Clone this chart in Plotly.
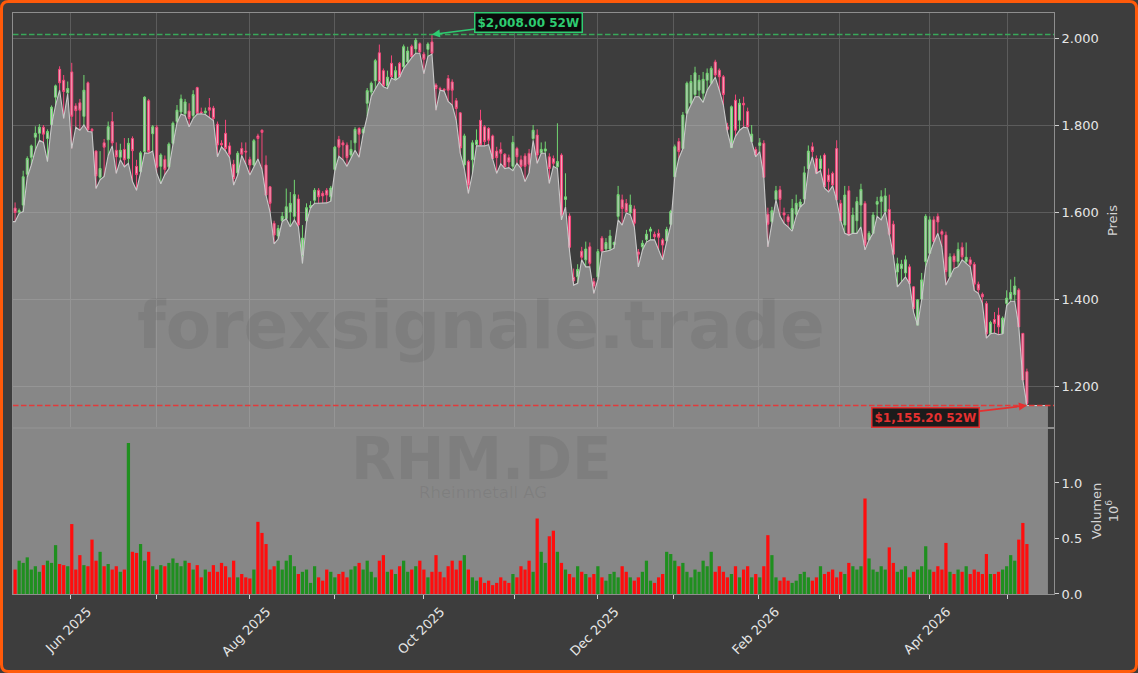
import numpy as np
import pandas as pd
import plotly.graph_objects as go
from plotly.subplots import make_subplots

# ---------------- data ----------------
start_date = "2025-05-13"
end_date = "2026-05-08"
exchange_holidays = ["2025-12-24", "2025-12-25", "2025-12-26", "2025-12-31",
                     "2026-01-01", "2026-04-03", "2026-04-06", "2026-05-01"]

opens = [
    1609, 1600, 1616, 1687, 1726, 1772, 1781, 1795, 1769, 1801,
    1864, 1928, 1903, 1874, 1922, 1844, 1851, 1820, 1897, 1790,
    1740, 1680, 1759, 1766, 1808, 1742, 1726, 1744, 1723, 1769,
    1705, 1693, 1739, 1856, 1780, 1795, 1705, 1721, 1704, 1758,
    1808, 1830, 1826, 1832, 1822, 1886, 1830, 1828, 1840, 1839,
    1802, 1758, 1781, 1752, 1710, 1690, 1746, 1740, 1721, 1708,
    1775, 1788, 1708, 1658, 1574, 1545, 1580, 1585, 1600, 1590,
    1630, 1500, 1580, 1610, 1627, 1650, 1643, 1650, 1635, 1698,
    1767, 1759, 1754, 1731, 1759, 1792, 1782, 1850, 1876, 1902,
    1966, 1925, 1890, 1942, 1905, 1942, 1934, 1945, 1981, 1975,
    1987, 1963, 1974, 1991, 1892, 1884, 1882, 1907, 1899, 1856,
    1828, 1708, 1716, 1720, 1755, 1811, 1796, 1792, 1775, 1740,
    1744, 1733, 1725, 1705, 1746, 1720, 1729, 1735, 1769, 1777,
    1736, 1740, 1727, 1723, 1704, 1731, 1629, 1591, 1450, 1451,
    1510, 1490, 1520, 1440, 1451, 1540, 1515, 1515, 1525, 1590,
    1628, 1620, 1598, 1607, 1508, 1520, 1537, 1556, 1549, 1551,
    1536, 1534, 1572, 1681, 1762, 1746, 1827, 1850, 1870, 1880,
    1873, 1903, 1896, 1945, 1926, 1911, 1796, 1748, 1857, 1811,
    1850, 1831, 1762, 1744, 1753, 1758, 1595, 1578, 1629, 1651,
    1598, 1589, 1562, 1595, 1612, 1630, 1700, 1750, 1723, 1700,
    1731, 1685, 1689, 1746, 1620, 1570, 1649, 1551, 1580, 1616,
    1620, 1536, 1551, 1618, 1624, 1601, 1606, 1572, 1462, 1470,
    1460, 1474, 1428, 1340, 1400, 1486, 1505, 1582, 1590, 1555,
    1547, 1451, 1499, 1486, 1519, 1486, 1490, 1480, 1434, 1411,
    1390, 1321, 1353, 1363, 1321, 1390, 1400, 1410, 1421, 1321, 1233,
]
highs = [
    1622, 1608, 1695, 1728, 1755, 1797, 1802, 1800, 1790, 1845,
    1893, 1935, 1915, 1900, 1943, 1850, 1860, 1915, 1900, 1793,
    1742, 1740, 1768, 1808, 1830, 1760, 1757, 1770, 1770, 1774,
    1720, 1740, 1866, 1860, 1800, 1800, 1735, 1730, 1760, 1808,
    1846, 1870, 1860, 1850, 1880, 1888, 1840, 1840, 1862, 1844,
    1808, 1765, 1812, 1760, 1720, 1740, 1760, 1760, 1727, 1768,
    1780, 1790, 1730, 1660, 1580, 1570, 1600, 1654, 1646, 1674,
    1640, 1570, 1620, 1625, 1655, 1655, 1648, 1655, 1660, 1752,
    1775, 1765, 1760, 1765, 1795, 1795, 1795, 1885, 1900, 1952,
    1985, 1930, 1925, 1960, 1935, 1945, 1985, 1980, 1985, 2000,
    1990, 1968, 1990, 2008, 1896, 1888, 1885, 1915, 1905, 1862,
    1830, 1780, 1720, 1765, 1790, 1835, 1800, 1795, 1778, 1750,
    1760, 1735, 1732, 1775, 1750, 1730, 1735, 1745, 1800, 1790,
    1760, 1762, 1735, 1730, 1804, 1735, 1689, 1597, 1470, 1480,
    1520, 1532, 1530, 1448, 1515, 1545, 1540, 1559, 1532, 1660,
    1640, 1630, 1640, 1615, 1515, 1535, 1559, 1566, 1555, 1560,
    1540, 1566, 1605, 1755, 1770, 1830, 1900, 1915, 1934, 1915,
    1922, 1930, 1935, 1950, 1930, 1915, 1805, 1845, 1870, 1860,
    1865, 1840, 1800, 1750, 1770, 1765, 1610, 1612, 1660, 1660,
    1610, 1595, 1630, 1640, 1630, 1705, 1753, 1760, 1730, 1730,
    1735, 1700, 1693, 1765, 1628, 1660, 1660, 1610, 1635, 1665,
    1625, 1556, 1600, 1635, 1650, 1655, 1640, 1580, 1495, 1490,
    1500, 1480, 1430, 1400, 1460, 1595, 1590, 1590, 1597, 1560,
    1555, 1505, 1505, 1530, 1530, 1530, 1497, 1485, 1440, 1415,
    1395, 1350, 1370, 1380, 1360, 1420, 1445, 1451, 1425, 1322, 1240,
]
lows = [
    1578, 1597, 1601, 1680, 1708, 1742, 1765, 1760, 1716, 1800,
    1845, 1880, 1815, 1872, 1746, 1795, 1788, 1800, 1785, 1784,
    1654, 1674, 1682, 1730, 1752, 1689, 1720, 1704, 1712, 1670,
    1650, 1690, 1736, 1735, 1740, 1690, 1665, 1686, 1700, 1755,
    1805, 1825, 1822, 1796, 1815, 1825, 1826, 1824, 1818, 1810,
    1727, 1750, 1740, 1725, 1662, 1685, 1730, 1710, 1685, 1705,
    1722, 1698, 1638, 1600, 1527, 1538, 1578, 1585, 1566, 1582,
    1566, 1482, 1576, 1610, 1620, 1620, 1620, 1621, 1625, 1695,
    1728, 1720, 1705, 1725, 1742, 1726, 1780, 1820, 1866, 1883,
    1899, 1888, 1884, 1908, 1903, 1910, 1930, 1942, 1955, 1965,
    1965, 1918, 1958, 1963, 1834, 1880, 1878, 1854, 1846, 1811,
    1735, 1700, 1643, 1688, 1752, 1752, 1752, 1755, 1723, 1689,
    1711, 1700, 1702, 1695, 1712, 1700, 1670, 1690, 1765, 1712,
    1735, 1735, 1666, 1705, 1700, 1582, 1612, 1510, 1432, 1436,
    1490, 1474, 1474, 1413, 1445, 1508, 1510, 1512, 1517, 1582,
    1570, 1598, 1594, 1566, 1474, 1512, 1531, 1536, 1536, 1513,
    1490, 1532, 1570, 1681, 1723, 1746, 1827, 1846, 1865, 1865,
    1852, 1880, 1895, 1910, 1880, 1846, 1785, 1748, 1774, 1788,
    1795, 1793, 1762, 1727, 1739, 1680, 1520, 1574, 1628, 1590,
    1574, 1566, 1556, 1590, 1612, 1620, 1697, 1727, 1689, 1695,
    1655, 1646, 1660, 1627, 1580, 1551, 1547, 1551, 1551, 1566,
    1513, 1536, 1551, 1590, 1582, 1600, 1545, 1500, 1428, 1440,
    1451, 1436, 1370, 1340, 1398, 1474, 1505, 1530, 1551, 1520,
    1432, 1451, 1470, 1474, 1490, 1482, 1474, 1420, 1413, 1390,
    1310, 1320, 1322, 1318, 1320, 1385, 1395, 1395, 1336, 1214, 1155.2,
]
closes = [
    1599, 1603, 1681, 1723, 1752, 1781, 1795, 1779, 1785, 1841,
    1890, 1897, 1877, 1884, 1820, 1833, 1834, 1880, 1789, 1787,
    1683, 1700, 1749, 1796, 1759, 1727, 1742, 1720, 1758, 1741,
    1686, 1736, 1864, 1739, 1796, 1703, 1731, 1698, 1756, 1804,
    1834, 1860, 1853, 1815, 1870, 1827, 1828, 1832, 1834, 1815,
    1754, 1754, 1746, 1733, 1677, 1735, 1733, 1738, 1708, 1764,
    1769, 1783, 1639, 1620, 1547, 1562, 1590, 1612, 1620, 1640,
    1570, 1540, 1610, 1615, 1650, 1635, 1637, 1639, 1655, 1749,
    1749, 1754, 1725, 1744, 1790, 1779, 1790, 1879, 1896, 1948,
    1900, 1890, 1910, 1911, 1925, 1911, 1980, 1970, 1957, 1995,
    1968, 1951, 1986, 1965, 1884, 1882, 1880, 1880, 1880, 1838,
    1747, 1775, 1662, 1759, 1765, 1754, 1762, 1765, 1723, 1725,
    1735, 1704, 1715, 1760, 1727, 1705, 1705, 1710, 1788, 1731,
    1744, 1745, 1700, 1712, 1716, 1593, 1635, 1519, 1442, 1468,
    1496, 1515, 1482, 1430, 1509, 1510, 1530, 1545, 1530, 1640,
    1608, 1601, 1616, 1574, 1503, 1528, 1549, 1561, 1543, 1542,
    1524, 1560, 1601, 1750, 1739, 1823, 1896, 1900, 1920, 1903,
    1905, 1919, 1930, 1915, 1911, 1870, 1790, 1842, 1788, 1850,
    1846, 1796, 1779, 1731, 1759, 1680, 1572, 1603, 1649, 1629,
    1593, 1578, 1608, 1620, 1623, 1690, 1740, 1739, 1689, 1722,
    1658, 1670, 1662, 1628, 1580, 1639, 1547, 1593, 1624, 1652,
    1524, 1551, 1593, 1624, 1635, 1637, 1549, 1503, 1481, 1480,
    1490, 1436, 1378, 1398, 1444, 1590, 1582, 1532, 1577, 1549,
    1463, 1497, 1486, 1514, 1497, 1496, 1480, 1434, 1421, 1405,
    1320, 1346, 1344, 1336, 1356, 1402, 1415, 1430, 1336, 1214, 1160,
]
volume_millions = [
    0.22, 0.30, 0.28, 0.33, 0.22, 0.25, 0.20, 0.26, 0.30, 0.28,
    0.44, 0.27, 0.26, 0.25, 0.63, 0.22, 0.35, 0.26, 0.25, 0.49,
    0.30, 0.38, 0.25, 0.27, 0.22, 0.25, 0.20, 0.22, 1.36, 0.38,
    0.37, 0.45, 0.30, 0.38, 0.25, 0.22, 0.26, 0.25, 0.28, 0.32,
    0.28, 0.25, 0.30, 0.28, 0.22, 0.26, 0.15, 0.22, 0.20, 0.26,
    0.20, 0.28, 0.25, 0.15, 0.30, 0.15, 0.18, 0.15, 0.14, 0.22,
    0.65, 0.55, 0.45, 0.22, 0.25, 0.30, 0.22, 0.30, 0.35, 0.25,
    0.18, 0.20, 0.22, 0.10, 0.25, 0.15, 0.12, 0.22, 0.20, 0.15,
    0.18, 0.20, 0.15, 0.22, 0.25, 0.28, 0.22, 0.30, 0.20, 0.15,
    0.30, 0.35, 0.20, 0.22, 0.18, 0.25, 0.30, 0.20, 0.22, 0.25,
    0.30, 0.22, 0.15, 0.20, 0.35, 0.20, 0.15, 0.25, 0.30, 0.22,
    0.30, 0.35, 0.22, 0.15, 0.12, 0.15, 0.10, 0.12, 0.08, 0.10,
    0.15, 0.12, 0.10, 0.18, 0.15, 0.25, 0.22, 0.30, 0.20, 0.68,
    0.38, 0.28, 0.52, 0.57, 0.38, 0.28, 0.22, 0.18, 0.15, 0.25,
    0.20, 0.18, 0.15, 0.18, 0.25, 0.15, 0.12, 0.18, 0.20, 0.15,
    0.25, 0.20, 0.15, 0.12, 0.15, 0.20, 0.30, 0.12, 0.10, 0.15,
    0.18, 0.38, 0.36, 0.30, 0.25, 0.28, 0.20, 0.15, 0.22, 0.20,
    0.30, 0.25, 0.38, 0.20, 0.25, 0.20, 0.15, 0.18, 0.25, 0.15,
    0.22, 0.25, 0.15, 0.18, 0.15, 0.25, 0.53, 0.35, 0.15, 0.12,
    0.15, 0.12, 0.10, 0.12, 0.18, 0.20, 0.15, 0.12, 0.15, 0.25,
    0.18, 0.20, 0.22, 0.15, 0.20, 0.18, 0.28, 0.25, 0.22, 0.25,
    0.86, 0.32, 0.22, 0.20, 0.25, 0.22, 0.42, 0.28, 0.20, 0.22,
    0.25, 0.15, 0.20, 0.22, 0.25, 0.43, 0.22, 0.20, 0.25, 0.22,
    0.46, 0.20, 0.18, 0.22, 0.20, 0.25, 0.18, 0.22, 0.20, 0.18,
    0.36, 0.18, 0.18, 0.20, 0.22, 0.25, 0.35, 0.30, 0.49, 0.64, 0.45,
]
month_label_months = ["Jun 2025", "Aug 2025", "Oct 2025", "Dec 2025", "Feb 2026", "Apr 2026"]
price_ticks = [1200, 1400, 1600, 1800, 2000]
price_tick_text = ["1.200", "1.400", "1.600", "1.800", "2.000"]
volume_ticks = [0.0, 0.5, 1.0]
volume_tick_text = ["0.0", "0.5", "1.0"]
ticker = "RHM.DE"
company = "Rheinmetall AG"
watermark = "forexsignale.trade"

# ---------------- derived ----------------
all_days = pd.bdate_range(start_date, end_date)
dates = [d for d in all_days if d.strftime("%Y-%m-%d") not in exchange_holidays]
n = len(opens)
dates = dates[:n]
idx = list(range(n))

date_ord = np.array([d.toordinal() for d in dates], dtype=float)
month_starts = pd.date_range("2025-06-01", "2026-05-01", freq="MS")
tick_pos = [float(np.interp(m.toordinal(), date_ord, idx)) for m in month_starts]
tick_txt = [m.strftime("%b %Y") if m.strftime("%b %Y") in month_label_months else " " for m in month_starts]

hi_i = int(np.argmax(highs))
lo_i = int(np.argmin(lows))
hi_v = highs[hi_i]
lo_v = lows[lo_i]

fill_end = n - 1 + 5.2
fill_x = [-0.6] + idx + [fill_end]
fill_y = [lows[0]] + lows + [lows[-1]]

vol_colors = ["#1f8f1f" if c >= o else "#ff0d0d" for o, c in zip(opens, closes)]

BG = "#3d3d3d"
FONT = "DejaVu Sans"

fig = make_subplots(rows=2, cols=1, shared_xaxes=True, vertical_spacing=0,
                    row_heights=[0.7143, 0.2857])

# semi-transparent grey area (lets the grid shimmer through, as in the original)
fig.add_trace(go.Scatter(x=fill_x, y=fill_y, mode="lines", fill="tozeroy",
                         fillcolor="rgba(196,196,196,0.55)", line=dict(color="#c9c9c9", width=1.1),
                         hoverinfo="skip", showlegend=False), row=1, col=1)

fig.add_trace(go.Candlestick(x=idx, open=opens, high=highs, low=lows, close=closes,
                             increasing=dict(line=dict(color="#72d672", width=1), fillcolor="#c4c4c4"),
                             decreasing=dict(line=dict(color="#f5467a", width=1), fillcolor="#f1aabe"),
                             whiskerwidth=0, showlegend=False), row=1, col=1)

fig.add_trace(go.Bar(x=idx, y=volume_millions, marker=dict(color=vol_colors, line=dict(width=0)),
                     width=0.8, showlegend=False), row=2, col=1)

# grey backdrop of the volume panel
fig.add_shape(type="rect", xref="x2", yref="y2 domain", x0=-0.6, x1=fill_end, y0=0, y1=1,
              fillcolor="#878787", line=dict(width=0), layer="below")

# 52W lines
fig.add_shape(type="line", xref="x domain", yref="y", x0=0, x1=1, y0=hi_v, y1=hi_v,
              line=dict(color="#38a85a", width=1.6, dash="5.5px,2.5px"))
fig.add_shape(type="line", xref="x domain", yref="y", x0=0, x1=1, y0=lo_v, y1=lo_v,
              line=dict(color="#e23a3a", width=1.6, dash="5.5px,2.5px"))

fig.add_annotation(x=hi_i, y=hi_v, xref="x", yref="y",
                   text=f"<b>${hi_v:,.2f} 52W</b>", showarrow=True, ax=97, ay=-12.5,
                   arrowhead=2, arrowsize=1, arrowwidth=1.6, arrowcolor="#2ecc71", standoff=0,
                   font=dict(family=FONT, size=12, color="#2ecc71"),
                   bgcolor="#0b0b0b", bordercolor="#2ecc71", borderwidth=1.5, borderpad=2)
fig.add_annotation(x=lo_i, y=lo_v, xref="x", yref="y",
                   text=f"<b>${lo_v:,.2f} 52W</b>", showarrow=True, ax=-101, ay=12,
                   arrowhead=2, arrowsize=1, arrowwidth=1.6, arrowcolor="#e53030", standoff=0,
                   font=dict(family=FONT, size=12, color="#e53030"),
                   bgcolor="#1b1b1b", bordercolor="#e53030", borderwidth=1.5, borderpad=2)

# watermarks
wm_color = "rgba(45,45,45,0.09)"
fig.add_annotation(x=0.4496, y=0.4613, xref="paper", yref="paper", text=f"<b>{watermark}</b>",
                   xanchor="center", yanchor="middle",
                   showarrow=False, font=dict(family=FONT, size=66, color=wm_color))
fig.add_annotation(x=0.4505, y=0.2325, xref="paper", yref="paper", text=f"<b>{ticker}</b>",
                   xanchor="center", yanchor="middle",
                   showarrow=False, font=dict(family=FONT, size=58, color=wm_color))
fig.add_annotation(x=0.4515, y=0.1755, xref="paper", yref="paper", text=company,
                   xanchor="center", yanchor="middle",
                   showarrow=False, font=dict(family=FONT, size=16.5, color=wm_color))

# orange rounded frame
W, H = 1138, 673
ml, mr, mt, mb = 13, 84, 13, 79
pw, ph = W - ml - mr, H - mt - mb
def px(xp): return (xp - ml) / pw
def py(yp): return (H - mb - yp) / ph
x0, x1, y0, y1, r = 1.5, W - 1.5, 1.5, H - 1.5, 7
path = (f"M {px(x0 + r)},{py(y0)} L {px(x1 - r)},{py(y0)} Q {px(x1)},{py(y0)} {px(x1)},{py(y0 + r)} "
        f"L {px(x1)},{py(y1 - r)} Q {px(x1)},{py(y1)} {px(x1 - r)},{py(y1)} "
        f"L {px(x0 + r)},{py(y1)} Q {px(x0)},{py(y1)} {px(x0)},{py(y1 - r)} "
        f"L {px(x0)},{py(y0 + r)} Q {px(x0)},{py(y0)} {px(x0 + r)},{py(y0)} Z")
fig.add_shape(type="path", xref="paper", yref="paper", path=path,
              line=dict(color="#ff5a0a", width=3), fillcolor="rgba(0,0,0,0)")

axis_common = dict(showline=True, mirror=True, linecolor="#8e8e8e", linewidth=1,
                   gridcolor="#5c5c5c", gridwidth=1, zeroline=False, automargin=False,
                   ticks="outside", ticklen=4, tickcolor="#d0d0d0",
                   tickfont=dict(family=FONT, size=13, color="#e6e6e6"))

fig.update_xaxes(**axis_common, range=[-0.52, 256.7], tickmode="array",
                 tickvals=tick_pos, ticktext=tick_txt, tickangle=-45,
                 rangeslider_visible=False)
fig.update_xaxes(showticklabels=False, ticks="", row=1, col=1)
fig.update_xaxes(showgrid=False, ticklabelshift=17, row=2, col=1)

fig.update_yaxes(**axis_common, side="right", range=[1103.5, 2057.5], tickmode="array",
                 tickvals=price_ticks, ticktext=price_tick_text,
                 title=dict(text="Preis", font=dict(family=FONT, size=13, color="#d4d4d4"), standoff=10),
                 row=1, col=1)
fig.update_yaxes(**axis_common, side="right", range=[0, 1.495], tickmode="array",
                 tickvals=volume_ticks, ticktext=volume_tick_text, showgrid=False,
                 title=dict(text="Volumen<br>10<sup>6</sup>", font=dict(family=FONT, size=13, color="#d4d4d4"), standoff=10),
                 row=2, col=1)

fig.update_layout(width=W, height=H, paper_bgcolor=BG, plot_bgcolor=BG,
                  margin=dict(l=ml, r=mr, t=mt, b=mb, autoexpand=False), bargap=0.1,
                  font=dict(family=FONT, color="#e6e6e6"), showlegend=False,
                  hovermode=False)

fig.write_html("out.html", config={"displayModeBar": False},
               post_script="document.body.style.margin='0';document.body.style.overflow='hidden';")
